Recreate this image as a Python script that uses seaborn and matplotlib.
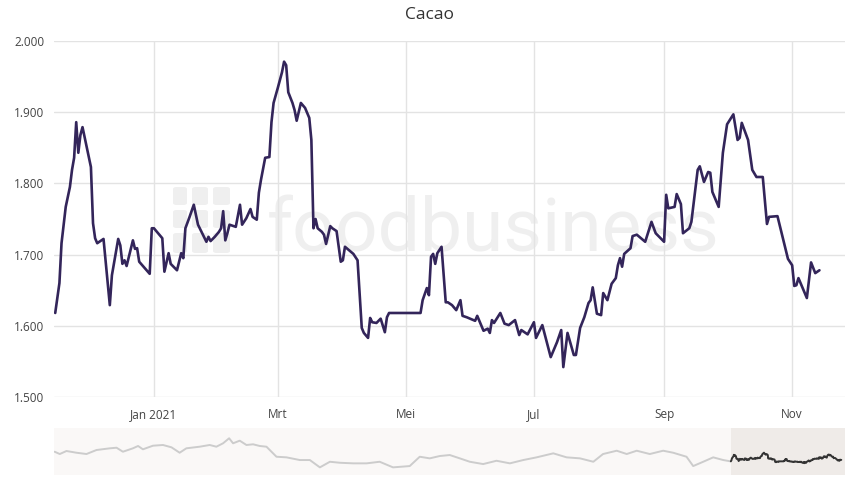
import matplotlib
matplotlib.use("Agg")
import matplotlib.pyplot as plt
import matplotlib.dates as mdates
from matplotlib.ticker import FuncFormatter
from matplotlib.patches import FancyBboxPatch
import seaborn as sns
import pandas as pd

# ---------------- data ----------------
title = "Cacao"

dates = [
    "2020-11-15", "2020-11-17", "2020-11-18", "2020-11-20", "2020-11-22", "2020-11-23",
    "2020-11-24", "2020-11-25", "2020-11-26", "2020-11-27", "2020-11-28", "2020-11-30",
    "2020-12-02", "2020-12-03", "2020-12-04", "2020-12-05", "2020-12-08", "2020-12-11",
    "2020-12-12", "2020-12-15", "2020-12-16", "2020-12-17", "2020-12-18", "2020-12-19",
    "2020-12-22", "2020-12-23", "2020-12-24", "2020-12-25", "2020-12-30", "2020-12-31",
    "2021-01-01", "2021-01-05", "2021-01-06", "2021-01-08", "2021-01-09", "2021-01-12",
    "2021-01-14", "2021-01-15", "2021-01-16", "2021-01-18", "2021-01-20", "2021-01-22",
    "2021-01-24", "2021-01-26", "2021-01-27", "2021-01-28", "2021-01-30", "2021-02-01",
    "2021-02-02", "2021-02-03", "2021-02-04", "2021-02-05", "2021-02-06", "2021-02-09",
    "2021-02-11", "2021-02-12", "2021-02-14", "2021-02-16", "2021-02-17", "2021-02-19",
    "2021-02-20", "2021-02-21", "2021-02-23", "2021-02-25", "2021-02-26", "2021-02-27",
    "2021-03-01", "2021-03-03", "2021-03-04", "2021-03-05", "2021-03-06", "2021-03-08",
    "2021-03-09", "2021-03-10", "2021-03-12", "2021-03-14", "2021-03-16", "2021-03-17",
    "2021-03-18", "2021-03-19", "2021-03-20", "2021-03-22", "2021-03-23", "2021-03-24",
    "2021-03-26", "2021-03-27", "2021-03-29", "2021-03-31", "2021-04-01", "2021-04-02",
    "2021-04-04", "2021-04-06", "2021-04-08", "2021-04-10", "2021-04-11", "2021-04-13",
    "2021-04-14", "2021-04-15", "2021-04-17", "2021-04-18", "2021-04-19", "2021-04-21",
    "2021-04-22", "2021-04-23", "2021-05-08", "2021-05-09", "2021-05-11", "2021-05-12",
    "2021-05-13", "2021-05-14", "2021-05-15", "2021-05-16", "2021-05-18", "2021-05-20",
    "2021-05-21", "2021-05-23", "2021-05-25", "2021-05-27", "2021-05-28", "2021-05-30",
    "2021-06-03", "2021-06-04", "2021-06-07", "2021-06-09", "2021-06-10", "2021-06-11",
    "2021-06-12", "2021-06-15", "2021-06-17", "2021-06-19", "2021-06-22", "2021-06-24",
    "2021-06-25", "2021-06-28", "2021-07-01", "2021-07-02", "2021-07-05", "2021-07-09",
    "2021-07-12", "2021-07-14", "2021-07-15", "2021-07-17", "2021-07-20", "2021-07-21",
    "2021-07-23", "2021-07-25", "2021-07-27", "2021-07-28", "2021-07-29", "2021-07-31",
    "2021-08-02", "2021-08-03", "2021-08-05", "2021-08-07", "2021-08-09", "2021-08-10",
    "2021-08-11", "2021-08-12", "2021-08-13", "2021-08-16", "2021-08-17", "2021-08-19",
    "2021-08-23", "2021-08-26", "2021-08-28", "2021-09-01", "2021-09-02", "2021-09-03",
    "2021-09-06", "2021-09-07", "2021-09-09", "2021-09-10", "2021-09-13", "2021-09-14",
    "2021-09-17", "2021-09-18", "2021-09-20", "2021-09-22", "2021-09-23", "2021-09-24",
    "2021-09-27", "2021-09-29", "2021-10-01", "2021-10-04", "2021-10-06", "2021-10-07",
    "2021-10-08", "2021-10-11", "2021-10-13", "2021-10-15", "2021-10-18", "2021-10-20",
    "2021-10-21", "2021-10-25", "2021-10-27", "2021-10-30", "2021-11-01", "2021-11-02",
    "2021-11-03", "2021-11-04", "2021-11-06", "2021-11-08", "2021-11-10", "2021-11-12",
    "2021-11-14",
]

prices = [
    1618, 1660, 1716, 1767, 1795, 1819,
    1836, 1886, 1843, 1868, 1879, 1851,
    1823, 1744, 1723, 1716, 1722, 1629,
    1671, 1722, 1713, 1687, 1692, 1684,
    1720, 1708, 1709, 1690, 1673, 1737,
    1737, 1723, 1676, 1702, 1687, 1678,
    1702, 1695, 1737, 1753, 1770, 1742,
    1730, 1718, 1725, 1719, 1725, 1732,
    1737, 1761, 1720, 1730, 1742, 1739,
    1770, 1742, 1751, 1764, 1753, 1749,
    1787, 1805, 1836, 1837, 1886, 1913,
    1934, 1956, 1971, 1966, 1928, 1913,
    1903, 1888, 1913, 1906, 1892, 1861,
    1737, 1750, 1737, 1732, 1728, 1715,
    1740, 1737, 1733, 1690, 1692, 1711,
    1706, 1701, 1692, 1597, 1590, 1583,
    1611, 1605, 1604, 1607, 1610, 1591,
    1612, 1618, 1618, 1636, 1653, 1643,
    1697, 1701, 1687, 1702, 1711, 1633,
    1633, 1629, 1622, 1636, 1614, 1612,
    1607, 1614, 1593, 1596, 1590, 1608,
    1604, 1618, 1603, 1601, 1608, 1587,
    1594, 1588, 1605, 1583, 1601, 1556,
    1577, 1594, 1542, 1590, 1559, 1559,
    1597, 1612, 1632, 1636, 1654, 1617,
    1615, 1646, 1636, 1659, 1667, 1685,
    1695, 1683, 1701, 1709, 1726, 1728,
    1718, 1746, 1730, 1718, 1784, 1765,
    1767, 1785, 1771, 1730, 1737, 1746,
    1819, 1824, 1802, 1816, 1815, 1788,
    1767, 1843, 1883, 1897, 1861, 1864,
    1885, 1861, 1819, 1809, 1809, 1743,
    1753, 1754, 1730, 1694, 1685, 1656,
    1657, 1667, 1653, 1639, 1689, 1674,
    1678,
]

# longer history shown in the navigator strip
nav_dates = [
    "2014-10-10", "2014-10-27", "2014-11-18", "2014-12-21", "2015-01-23", "2015-02-25",
    "2015-04-10", "2015-05-02", "2015-05-23", "2015-06-25", "2015-07-12", "2015-07-28",
    "2015-08-30", "2015-10-02", "2015-10-30", "2015-11-26", "2015-12-18", "2016-01-31",
    "2016-03-04", "2016-03-26", "2016-04-17", "2016-05-07", "2016-05-20", "2016-06-11",
    "2016-07-03", "2016-07-25", "2016-08-16", "2016-09-07", "2016-10-10", "2016-11-12",
    "2016-12-26", "2017-01-28", "2017-03-02", "2017-04-04", "2017-05-07", "2017-06-20",
    "2017-08-03", "2017-09-15", "2017-10-29", "2017-12-23", "2018-01-25", "2018-02-27",
    "2018-04-01", "2018-05-04", "2018-06-06", "2018-07-09", "2018-08-22", "2018-10-05",
    "2018-11-18", "2019-01-01", "2019-02-14", "2019-04-10", "2019-05-24", "2019-07-07",
    "2019-08-20", "2019-09-21", "2019-11-05", "2019-12-08", "2020-01-10", "2020-02-22",
    "2020-04-06", "2020-05-09", "2020-06-22", "2020-07-14", "2020-08-16", "2020-09-18",
    "2020-10-21", "2020-11-14",
]
nav_prices = [
    2011, 1917, 2040, 1970, 1917, 2081,
    2150, 2175, 2011, 2150, 2245, 2109,
    2257, 2286, 2191, 1970, 2150, 2216,
    2286, 2216, 2355, 2560, 2355, 2462,
    2286, 2314, 2245, 2216, 1806, 1781,
    1671, 1671, 1372, 1601, 1560, 1536,
    1536, 1601, 1372, 1425, 1806, 1740,
    1835, 1876, 1740, 1601, 1507, 1642,
    1536, 1671, 1781, 1945, 1781, 1740,
    1601, 1917, 2052, 1917, 2052, 1917,
    2052, 1970, 1806, 1425, 1601, 1781,
    1671, 1618,
]

month_ticks = ["2021-01-01", "2021-03-01", "2021-05-01", "2021-07-01", "2021-09-01", "2021-11-01"]
month_labels = ["Jan 2021", "Mrt", "Mei", "Jul", "Sep", "Nov"]
y_ticks = [1500, 1600, 1700, 1800, 1900, 2000]

# ---------------- figure ----------------
sns.set_theme(style="white")
plt.rcParams["font.family"] = ["Open Sans", "DejaVu Sans"]

df = pd.DataFrame({"date": pd.to_datetime(dates), "price": prices})
nav_df = pd.DataFrame({"date": pd.to_datetime(nav_dates), "price": nav_prices})

W, H = 858, 496
fig = plt.figure(figsize=(W / 100, H / 100), dpi=100)
fig.patch.set_facecolor("white")

def frac(x0, y0, x1, y1):
    return [x0 / W, 1 - y1 / H, (x1 - x0) / W, (y1 - y0) / H]

# watermark (behind everything)
wm_color = "#efefef"
cols = [(173, 187), (192, 208), (213, 230)]
rows = [(187, 205), (210, 228), (233, 253)]
for (cx0, cx1) in cols:
    for (ry0, ry1) in rows:
        fig.patches.append(FancyBboxPatch(
            (cx0 / W, 1 - ry1 / H), (cx1 - cx0) / W, (ry1 - ry0) / H,
            boxstyle="round,pad=0,rounding_size=0.004",
            transform=fig.transFigure, facecolor=wm_color, edgecolor="none", zorder=0))
fig.text(267 / W, 1 - 251 / H, "foodbusiness", fontsize=54, color=wm_color,
         family=["Roboto", "DejaVu Sans"], ha="left", va="baseline", zorder=0)

ax = fig.add_axes(frac(54, 41, 845, 397))
ax.set_facecolor("none")
ax.set_zorder(2)

sns.lineplot(data=df, x="date", y="price", ax=ax, color="#33255a", linewidth=1.9)

x_start = pd.Timestamp("2020-11-14 10:00")
x_end = pd.Timestamp("2021-11-26 04:00")
ax.set_xlim(x_start, x_end)
ax.set_ylim(1500, 2000)
ax.set_yticks(y_ticks)
ax.yaxis.set_major_formatter(FuncFormatter(lambda v, p: f"{v:,.0f}".replace(",", ".")))
ax.set_xticks(pd.to_datetime(month_ticks))
ax.set_xticklabels(month_labels)
ax.set_xlabel("")
ax.set_ylabel("")
ax.grid(True, color="#e3e3e3", linewidth=1.0)
ax.set_axisbelow(True)
for s in ax.spines.values():
    s.set_visible(False)
ax.tick_params(axis="both", length=0, labelsize=8.5, colors="#444444")
ax.tick_params(axis="x", pad=8)
ax.tick_params(axis="y", pad=7)

fig.text(429 / W, 1 - 15 / H, title, ha="center", va="center", fontsize=12.5,
         color="#333333", fontweight="medium")

# navigator
nav = fig.add_axes(frac(54, 428, 845, 475))
nav.set_facecolor("#faf8f7")
nav.axvspan(x_start, x_end, color="#efebe8", zorder=0, linewidth=0)
sns.lineplot(data=nav_df, x="date", y="price", ax=nav, color="#cccccc", linewidth=1.4)
sns.lineplot(data=df, x="date", y="price", ax=nav, color="#333333", linewidth=1.4)
nav.set_xlim(pd.Timestamp("2014-10-08"), x_end)
nav.set_ylim(1060, 2980)
nav.set_xticks([])
nav.set_yticks([])
nav.set_xlabel("")
nav.set_ylabel("")
for s in nav.spines.values():
    s.set_visible(False)

fig.savefig("out.png", dpi=100)
